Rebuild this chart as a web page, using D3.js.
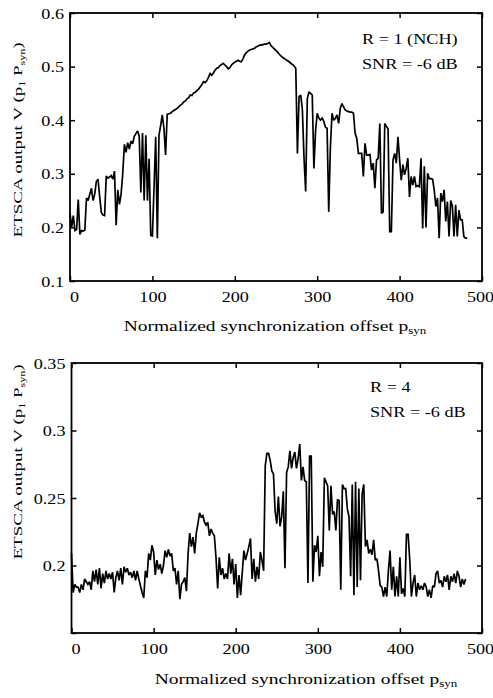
<!DOCTYPE html>
<html>
<head>
<meta charset="utf-8">
<script src="https://cdn.jsdelivr.net/npm/d3@7/dist/d3.min.js"></script>
<style>
  body { margin: 0; background: #fff; }
  text { font-family: "Liberation Serif", "Times New Roman", serif; fill: #000; }
</style>
</head>
<body>
<div id="chart"></div>
<script>
// offsets are sampled every 2 units
var offsetStep = 2;
var xTicks = [0, 100, 200, 300, 400, 500];
var topYTicks = [0.1, 0.2, 0.3, 0.4, 0.5, 0.6];
var bottomYTicks = [0.15, 0.2, 0.25, 0.3, 0.35];
var bottomYTickLabels = ["", "0.2", "0.25", "0.3", "0.35"];
var topNotes = ["R = 1 (NCH)", "SNR = -6 dB"];
var bottomNotes = ["R = 4", "SNR = -6 dB"];

// R = 1 (NCH)
var topValues = [
  0.227, 0.200, 0.222, 0.194, 0.196, 0.252, 0.187, 0.194, 0.193, 0.195,
  0.255, 0.250, 0.262, 0.273, 0.250, 0.262, 0.286, 0.290, 0.258, 0.228,
  0.223, 0.222, 0.296, 0.292, 0.294, 0.297, 0.290, 0.305, 0.204, 0.270,
  0.243, 0.262, 0.300, 0.355, 0.340, 0.358, 0.346, 0.361, 0.356, 0.370,
  0.375, 0.380, 0.370, 0.265, 0.376, 0.250, 0.372, 0.250, 0.328, 0.185,
  0.184, 0.275, 0.369, 0.180, 0.372, 0.390, 0.410, 0.385, 0.335, 0.411,
  0.412, 0.413, 0.416, 0.418, 0.420, 0.422, 0.425, 0.428, 0.430, 0.434,
  0.436, 0.440, 0.442, 0.447, 0.446, 0.451, 0.452, 0.455, 0.458, 0.462,
  0.466, 0.472, 0.470, 0.474, 0.480, 0.487, 0.484, 0.488, 0.493, 0.497,
  0.498, 0.502, 0.504, 0.506, 0.503, 0.500, 0.496, 0.498, 0.503, 0.506,
  0.508, 0.510, 0.512, 0.510, 0.509, 0.515, 0.522, 0.526, 0.529, 0.531,
  0.532, 0.533, 0.534, 0.537, 0.538, 0.540, 0.540, 0.541, 0.542, 0.542,
  0.543, 0.545, 0.539, 0.536, 0.533, 0.530, 0.527, 0.523, 0.520, 0.517,
  0.515, 0.513, 0.511, 0.509, 0.506, 0.504, 0.501, 0.497, 0.338, 0.444,
  0.447, 0.420, 0.330, 0.267, 0.440, 0.453, 0.450, 0.447, 0.310, 0.380,
  0.413, 0.404, 0.400, 0.404, 0.398, 0.387, 0.385, 0.229, 0.350, 0.413,
  0.400, 0.403, 0.410, 0.394, 0.422, 0.431, 0.425, 0.419, 0.417, 0.416,
  0.415, 0.415, 0.413, 0.376, 0.366, 0.338, 0.338, 0.338, 0.295, 0.357,
  0.335, 0.335, 0.336, 0.307, 0.320, 0.273, 0.326, 0.329, 0.394, 0.226,
  0.229, 0.394, 0.388, 0.384, 0.192, 0.192, 0.326, 0.338, 0.320, 0.369,
  0.326, 0.288, 0.317, 0.298, 0.310, 0.329, 0.257, 0.295, 0.279, 0.295,
  0.276, 0.278, 0.276, 0.329, 0.198, 0.314, 0.200, 0.301, 0.291, 0.291,
  0.290, 0.270, 0.239, 0.255, 0.180, 0.264, 0.248, 0.270, 0.211, 0.248,
  0.183, 0.250, 0.240, 0.183, 0.242, 0.183, 0.232, 0.214, 0.214, 0.183,
  0.180, 0.180
];

// R = 4
var bottomValues = [
  0.209, 0.180, 0.186, 0.184, 0.184, 0.180, 0.186, 0.182, 0.190, 0.188,
  0.186, 0.188, 0.182, 0.196, 0.188, 0.197, 0.186, 0.198, 0.183, 0.194,
  0.187, 0.196, 0.190, 0.194, 0.190, 0.195, 0.180, 0.191, 0.196, 0.189,
  0.198, 0.186, 0.199, 0.195, 0.198, 0.193, 0.195, 0.191, 0.196, 0.189,
  0.196, 0.190, 0.185, 0.180, 0.176, 0.196, 0.191, 0.209, 0.204, 0.215,
  0.210, 0.193, 0.204, 0.197, 0.201, 0.194, 0.200, 0.211, 0.206, 0.212,
  0.207, 0.209, 0.196, 0.198, 0.186, 0.196, 0.175, 0.186, 0.188, 0.191,
  0.181, 0.209, 0.224, 0.214, 0.221, 0.209, 0.224, 0.231, 0.239, 0.236,
  0.237, 0.232, 0.230, 0.232, 0.222, 0.227, 0.224, 0.222, 0.206, 0.183,
  0.206, 0.193, 0.198, 0.190, 0.194, 0.190, 0.209, 0.194, 0.205, 0.186,
  0.201, 0.176, 0.193, 0.178, 0.195, 0.211, 0.204, 0.209, 0.214, 0.220,
  0.190, 0.205, 0.188, 0.199, 0.190, 0.210, 0.204, 0.196, 0.274, 0.283,
  0.283, 0.278, 0.270, 0.268, 0.240, 0.231, 0.251, 0.229, 0.236, 0.255,
  0.198, 0.269, 0.273, 0.285, 0.272, 0.280, 0.284, 0.272, 0.279, 0.290,
  0.263, 0.273, 0.263, 0.262, 0.187, 0.281, 0.281, 0.188, 0.215, 0.210,
  0.222, 0.192, 0.210, 0.199, 0.265, 0.262, 0.259, 0.226, 0.259, 0.238,
  0.240, 0.226, 0.249, 0.248, 0.182, 0.260, 0.257, 0.257, 0.242, 0.236,
  0.192, 0.260, 0.178, 0.262, 0.184, 0.257, 0.189, 0.253, 0.260, 0.214,
  0.219, 0.209, 0.212, 0.208, 0.219, 0.204, 0.205, 0.196, 0.185, 0.184,
  0.177, 0.184, 0.177, 0.196, 0.211, 0.182, 0.199, 0.177, 0.192, 0.177,
  0.206, 0.179, 0.183, 0.177, 0.223, 0.223, 0.204, 0.177, 0.187, 0.193,
  0.177, 0.187, 0.182, 0.185, 0.182, 0.187, 0.184, 0.177, 0.182, 0.176,
  0.185, 0.184, 0.194, 0.196, 0.187, 0.189, 0.184, 0.192, 0.188, 0.193,
  0.182, 0.192, 0.188, 0.194, 0.187, 0.196, 0.192, 0.184, 0.190, 0.186,
  0.190
];

var W = 493, H = 698;
// the source figure is stretched sideways, so text gets widened too
var stretch = 1.25;

var svg = d3.select("#chart")
  .append("svg")
    .attr("width", W)
    .attr("height", H);

function drawPanel(p) {
  var x = d3.scaleLinear().domain([0, 500]).range([0, p.width]);
  var y = d3.scaleLinear().domain(p.yDomain).range([p.height, 0]);

  var g = svg.append("g")
    .attr("transform", "translate(" + p.left + "," + p.top + ")");

  // data line
  var line = d3.line()
    .x(function(d, i) { return x(i * offsetStep); })
    .y(function(d) { return y(d); });

  g.append("path")
    .datum(p.values)
    .attr("d", line)
    .attr("fill", "none")
    .attr("stroke", "#000")
    .attr("stroke-width", 1.7)
    .attr("stroke-linejoin", "miter")
    .attr("stroke-miterlimit", 2);

  // inward ticks on all four sides
  var bottomAxis = g.append("g")
    .attr("transform", "translate(0," + p.height + ")")
    .call(d3.axisBottom(x).tickValues(xTicks).tickSizeInner(-5).tickSizeOuter(0));
  g.append("g")
    .call(d3.axisTop(x).tickValues(xTicks).tickSizeInner(-5).tickSizeOuter(0).tickFormat(""));
  var leftAxis = g.append("g")
    .call(d3.axisLeft(y).tickValues(p.yTicks).tickSizeInner(-5).tickSizeOuter(0)
      .tickFormat(function(d, i) { return p.yLabels ? p.yLabels[i] : d3.format("")(d); }));
  g.append("g")
    .attr("transform", "translate(" + p.width + ",0)")
    .call(d3.axisRight(y).tickValues(p.yTicks).tickSizeInner(-5).tickSizeOuter(0).tickFormat(""));

  g.selectAll(".domain").remove();
  g.selectAll(".tick line").attr("stroke", "#000").attr("stroke-width", 1.5);
  g.selectAll(".tick text").attr("font-family", null).style("font-size", "14.5px");

  bottomAxis.selectAll(".tick text")
    .attr("y", null).attr("dy", null)
    .attr("transform", function(d) {
      var nudge = d === 0 ? 4 : (d === 500 ? -2 : 0);
      return "translate(" + nudge + ",21) scale(" + stretch + ",1)";
    });
  leftAxis.selectAll(".tick text")
    .attr("x", null).attr("dy", "0.35em")
    .attr("transform", "translate(-6,0) scale(" + stretch + ",1)");

  // frame
  g.append("rect")
    .attr("width", p.width)
    .attr("height", p.height)
    .attr("fill", "none")
    .attr("stroke", "#000")
    .attr("stroke-width", 1.8);

  // notes in the upper right corner
  g.selectAll(".note")
    .data(p.notes)
    .enter()
    .append("text")
      .attr("class", "note")
      .style("font-size", "14px")
      .attr("transform", function(d, i) {
        return "translate(" + p.noteX + "," + (p.noteY + i * 25) + ") scale(1.3,1)";
      })
      .text(function(d) { return d; });

  // x axis title
  var xt = svg.append("text")
    .attr("text-anchor", "middle")
    .style("font-size", "15px")
    .attr("transform", "translate(" + p.xTitleX + "," + p.xTitleY + ") scale(1.3,1)");
  xt.append("tspan").text("Normalized synchronization offset p");
  xt.append("tspan").attr("dy", 3).style("font-size", "10px").text("syn");

  // y axis title
  var yt = svg.append("text")
    .attr("text-anchor", "middle")
    .style("font-size", "19px")
    .attr("transform", "translate(22," + p.yTitleY + ") rotate(-90) scale(1,0.68)");
  yt.append("tspan").text("ETSCA output V (p");
  yt.append("tspan").attr("dy", 4).style("font-size", "12px").text("1");
  yt.append("tspan").attr("dy", -4).text(" P");
  yt.append("tspan").attr("dy", 4).style("font-size", "12px").text("syn");
  yt.append("tspan").attr("dy", -4).text(")");
}

drawPanel({
  left: 70, top: 13, width: 412, height: 268,
  yDomain: [0.1, 0.6], yTicks: topYTicks,
  values: topValues, notes: topNotes,
  noteX: 292, noteY: 31,
  xTitleX: 275, xTitleY: 331, yTitleY: 140
});

drawPanel({
  left: 71.5, top: 363, width: 410.5, height: 270,
  yDomain: [0.15, 0.35], yTicks: bottomYTicks, yLabels: bottomYTickLabels,
  values: bottomValues, notes: bottomNotes,
  noteX: 298.5, noteY: 29,
  xTitleX: 306, xTitleY: 684, yTitleY: 462
});
</script>
</body>
</html>
